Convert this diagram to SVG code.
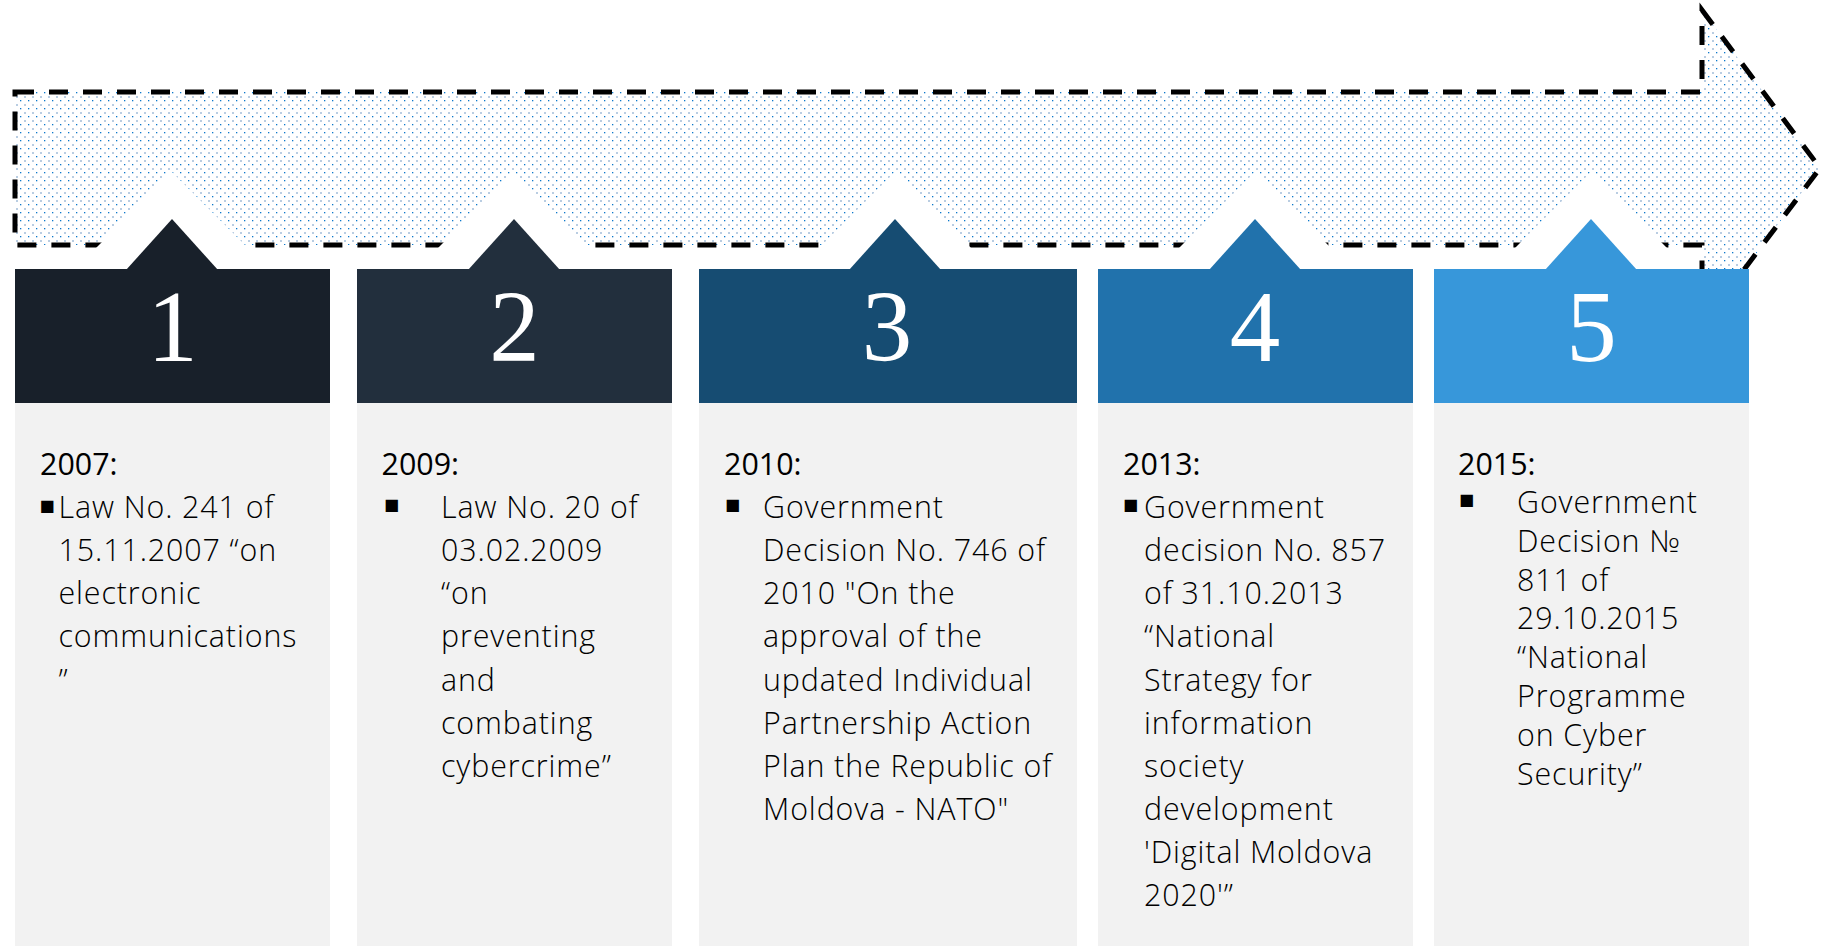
<svg xmlns="http://www.w3.org/2000/svg" width="1821" height="946" viewBox="0 0 1821 946">
  <defs>
    <!-- fine dot screen used to fill the timeline arrow -->
    <pattern id="dots" width="8" height="8" patternUnits="userSpaceOnUse">
      <rect width="8" height="8" fill="#ffffff"/>
      <rect x="0" y="0" width="2" height="2" fill="#b9cde2"/>
      <rect x="4" y="4" width="1.3" height="1.3" fill="#0b78cc"/>
    </pattern>
    <style>
      .arrow { fill: url(#dots); stroke: #000; stroke-width: 5; stroke-dasharray: 19 15; }
      .halo { fill: #ffffff; }
      .body { fill: #f2f2f2; }
      .num { font-family: "Liberation Serif", "Times New Roman", serif; font-size: 101px; fill: #ffffff; text-anchor: middle; }
      .year { font-family: "Open Sans", "Noto Sans", sans-serif; font-size: 30.4px; font-weight: 400; fill: #000; }
      .txt { font-family: "Open Sans", "Noto Sans", sans-serif; font-size: 30.4px; font-weight: 300; letter-spacing: 0.9px; fill: #000; }
      .bul { font-family: "DejaVu Sans", sans-serif; font-size: 16px; fill: #000; }
    </style>
  </defs>

  <rect width="1821" height="946" fill="#ffffff"/>

  <!-- dashed timeline arrow running behind the steps -->
  <g id="timeline-arrow">
    <path class="arrow" d="M15 92 H1702 V10 L1820 168 L1702 326 V245 H15 Z"/>
  </g>

  <!-- white cut-outs around each pointer -->
  <g id="halos">
    <polygon class="halo" points="172,172 272,272 72,272"/>
    <polygon class="halo" points="514,172 614,272 414,272"/>
    <polygon class="halo" points="895,172 995,272 795,272"/>
    <polygon class="halo" points="1255,172 1355,272 1155,272"/>
    <polygon class="halo" points="1591,172 1691,272 1491,272"/>
  </g>

  <g id="step-1">
    <rect x="15" y="269" width="315" height="134" fill="#18202a"/>
    <polygon points="172,219 218,270 126,270" fill="#18202a"/>
    <rect class="body" x="15" y="403" width="315" height="543"/>
    <text class="num" x="172.5" y="361">1</text>
    <text class="year" x="40" y="474.5">2007:</text>
    <text class="bul" x="39.5" y="511">■</text>
    <text class="txt">
      <tspan x="58.5" y="518">Law No. 241 of</tspan>
      <tspan x="58.5" y="561.15">15.11.2007 “on</tspan>
      <tspan x="58.5" y="604.3">electronic</tspan>
      <tspan x="58.5" y="647.45">communications</tspan>
      <tspan x="58.5" y="690.6">”</tspan>
    </text>
  </g>

  <g id="step-2">
    <rect x="357" y="269" width="315" height="134" fill="#222f3d"/>
    <polygon points="514,219 560,270 468,270" fill="#222f3d"/>
    <rect class="body" x="357" y="403" width="315" height="543"/>
    <text class="num" x="514.5" y="361">2</text>
    <text class="year" x="381.5" y="474.5">2009:</text>
    <text class="bul" x="384" y="510">■</text>
    <text class="txt">
      <tspan x="441" y="518">Law No. 20 of</tspan>
      <tspan x="441" y="561.15">03.02.2009</tspan>
      <tspan x="441" y="604.3">“on</tspan>
      <tspan x="441" y="647.45">preventing</tspan>
      <tspan x="441" y="690.6">and</tspan>
      <tspan x="441" y="733.75">combating</tspan>
      <tspan x="441" y="776.9">cybercrime”</tspan>
    </text>
  </g>

  <g id="step-3">
    <rect x="699" y="269" width="378" height="134" fill="#164c72"/>
    <polygon points="895,219 941,270 849,270" fill="#164c72"/>
    <rect class="body" x="699" y="403" width="378" height="543"/>
    <text class="num" x="887" y="361">3</text>
    <text class="year" x="724" y="474.5">2010:</text>
    <text class="bul" x="725" y="510">■</text>
    <text class="txt">
      <tspan x="763" y="518">Government</tspan>
      <tspan x="763" y="561.15">Decision No. 746 of</tspan>
      <tspan x="763" y="604.3">2010 "On the</tspan>
      <tspan x="763" y="647.45">approval of the</tspan>
      <tspan x="763" y="690.6">updated Individual</tspan>
      <tspan x="763" y="733.75">Partnership Action</tspan>
      <tspan x="763" y="776.9">Plan the Republic of</tspan>
      <tspan x="763" y="820.05">Moldova - NATO"</tspan>
    </text>
  </g>

  <g id="step-4">
    <rect x="1098" y="269" width="315" height="134" fill="#2172ac"/>
    <polygon points="1255,219 1301,270 1209,270" fill="#2172ac"/>
    <rect class="body" x="1098" y="403" width="315" height="543"/>
    <text class="num" x="1255" y="361">4</text>
    <text class="year" x="1123" y="474.5">2013:</text>
    <text class="bul" x="1123" y="510">■</text>
    <text class="txt">
      <tspan x="1144" y="518">Government</tspan>
      <tspan x="1144" y="561.15">decision No. 857</tspan>
      <tspan x="1144" y="604.3">of 31.10.2013</tspan>
      <tspan x="1144" y="647.45">“National</tspan>
      <tspan x="1144" y="690.6">Strategy for</tspan>
      <tspan x="1144" y="733.75">information</tspan>
      <tspan x="1144" y="776.9">society</tspan>
      <tspan x="1144" y="820.05">development</tspan>
      <tspan x="1144" y="863.2">'Digital Moldova</tspan>
      <tspan x="1144" y="906.35">2020'”</tspan>
    </text>
  </g>

  <g id="step-5">
    <rect x="1434" y="269" width="315" height="134" fill="#3797da"/>
    <polygon points="1591,219 1637,270 1545,270" fill="#3797da"/>
    <rect class="body" x="1434" y="403" width="315" height="543"/>
    <text class="num" x="1591.5" y="361">5</text>
    <text class="year" x="1458" y="474.5">2015:</text>
    <text class="bul" x="1459" y="505">■</text>
    <text class="txt">
      <tspan x="1517" y="513">Government</tspan>
      <tspan x="1517" y="551.8">Decision №</tspan>
      <tspan x="1517" y="590.6">811 of</tspan>
      <tspan x="1517" y="629.4">29.10.2015</tspan>
      <tspan x="1517" y="668.2">“National</tspan>
      <tspan x="1517" y="707">Programme</tspan>
      <tspan x="1517" y="745.8">on Cyber</tspan>
      <tspan x="1517" y="784.6">Security”</tspan>
    </text>
  </g>
</svg>
